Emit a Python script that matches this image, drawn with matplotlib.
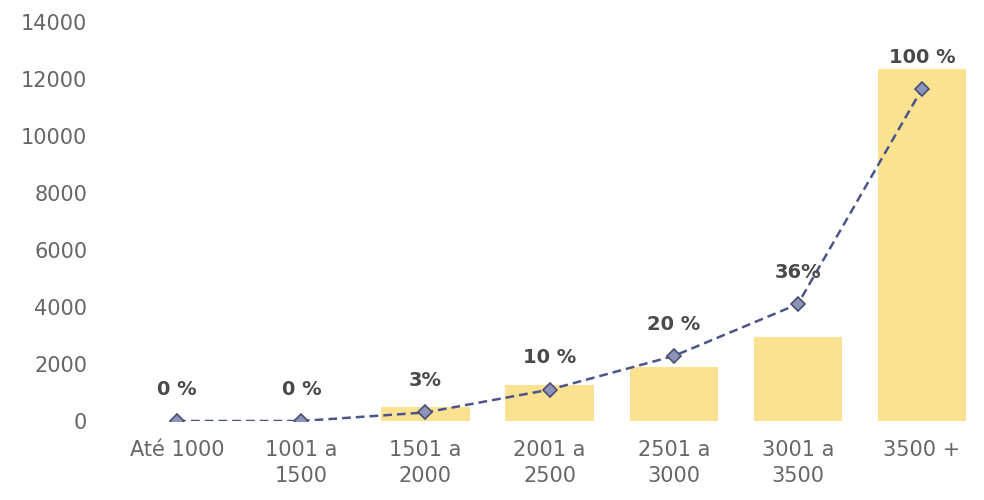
import matplotlib.pyplot as plt
import numpy as np

categories = ["Até 1000", "1001 a\n1500", "1501 a\n2000", "2001 a\n2500",
              "2501 a\n3000", "3001 a\n3500", "3500 +"]
bar_values = [0, 0, 500, 1250, 1900, 2950, 12350]
line_values = [0, 0, 300, 1100, 2280, 4100, 11650]
pct_labels = ["0 %", "0 %", "3%", "10 %", "20 %", "36%", "100 %"]

plt.rcParams['font.family'] = ['DejaVu Sans']

fig = plt.figure(figsize=(9.84, 5.0), dpi=100)
ax = fig.add_axes([0.117, 0.158, 0.883, 0.798])

x = np.arange(len(categories))
ax.bar(x, bar_values, width=0.71, color='#fbe291', zorder=1)
ax.plot(x, line_values, linestyle='--', color='#4b5587', linewidth=1.8,
        dashes=(3.5, 2), marker='D', markersize=7.5,
        markerfacecolor='#8e93bb', markeredgecolor='#4b5070',
        markeredgewidth=1.2, zorder=3)

for xi, yi, lab in zip(x, line_values, pct_labels):
    ax.annotate(lab, (xi, yi), xytext=(0, 23), textcoords='offset points',
                ha='center', va='center', fontsize=14, fontweight='bold',
                color='#4a4a4a')

ax.set_xlim(-0.5, len(categories) - 0.5)
ax.set_ylim(0, 14000)
ax.set_yticks(range(0, 14001, 2000))
ax.set_yticklabels([str(v) for v in range(0, 14001, 2000)])
ax.set_xticks(x)
ax.set_xticklabels(categories, linespacing=1.35)

for s in ax.spines.values():
    s.set_visible(False)
ax.tick_params(axis='both', length=0, labelsize=15, labelcolor='#666666')
ax.tick_params(axis='y', pad=20)
ax.tick_params(axis='x', pad=14)

fig.savefig('out.png', dpi=100, facecolor='white')
